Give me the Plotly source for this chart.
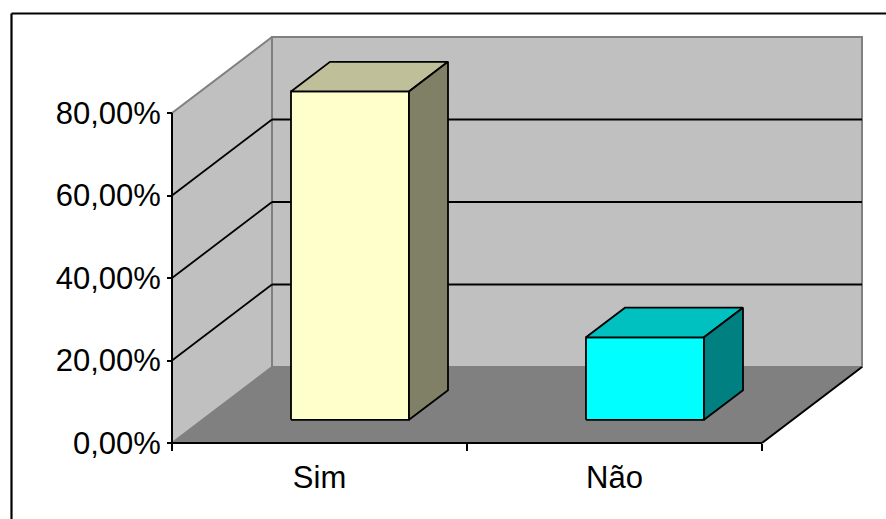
import plotly.graph_objects as go

# ---- data ----
categories = ["Sim", "Não"]
values = [79.6, 20.0]
y_tickvals = [0, 20, 40, 60, 80]
y_ticktext = ["0,00%", "20,00%", "40,00%", "60,00%", "80,00%"]
y_max = 80

# ---- styles ----
front_colors = ["#FFFFCC", "#00FFFF"]
top_colors = ["#BFBF99", "#00C0C0"]
side_colors = ["#808066", "#008080"]
WALL = "#C0C0C0"
FLOOR = "#808080"
EDGE = "#808080"
FONT = "Liberation Sans, Arial, sans-serif"

# ---- layout geometry (pixels) ----
W, H = 886, 519
AX_LEFT, AX_BOTTOM = 172, 443       # front-left corner of the floor
DEPTH_XPX, DEPTH_YPX = 100, 76      # oblique depth offset
BACK_RIGHT, BACK_TOP = 862, 37
PAD = 6

N = len(categories)
xscale = (BACK_RIGHT - AX_LEFT - DEPTH_XPX) / N
yscale = (AX_BOTTOM - DEPTH_YPX - BACK_TOP) / y_max
DX = DEPTH_XPX / xscale
DY = DEPTH_YPX / yscale

ml = AX_LEFT - PAD
mr = W - (BACK_RIGHT + PAD)
mt = BACK_TOP - PAD
mb = H - (AX_BOTTOM + PAD)
pw = W - ml - mr
ph = H - mt - mb


def proj(x, v, d):
    return x + d * DX, v + d * DY


def poly(pts):
    xs = [p[0] for p in pts] + [pts[0][0]]
    ys = [p[1] for p in pts] + [pts[0][1]]
    return xs, ys


fig = go.Figure()


def add_poly(pts, fill, lcolor, lwidth):
    xs, ys = poly(pts)
    fig.add_trace(go.Scatter(x=xs, y=ys, mode="lines", fill="toself",
                             fillcolor=fill,
                             line=dict(color=lcolor, width=lwidth),
                             hoverinfo="skip", showlegend=False))


def add_line(p0, p1, color, width):
    fig.add_trace(go.Scatter(x=[p0[0], p1[0]], y=[p0[1], p1[1]], mode="lines",
                             line=dict(color=color, width=width),
                             hoverinfo="skip", showlegend=False))


# floor
add_poly([proj(0, 0, 0), proj(N, 0, 0), proj(N, 0, 1), proj(0, 0, 1)], FLOOR, FLOOR, 0.5)
# side wall
add_poly([proj(0, 0, 0), proj(0, 0, 1), proj(0, y_max, 1), proj(0, y_max, 0)], WALL, EDGE, 2)
# back wall
add_poly([proj(0, 0, 1), proj(N, 0, 1), proj(N, y_max, 1), proj(0, y_max, 1)], WALL, EDGE, 2)

# gridlines
for v in y_tickvals[1:-1]:
    add_line(proj(0, v, 0), proj(0, v, 1), "black", 1.8)
    add_line(proj(0, v, 1), proj(N, v, 1), "black", 1.8)

# axis edges
add_line(proj(0, 0, 0), proj(0, y_max, 0), "black", 2)
add_line(proj(0, 0, 0), proj(N, 0, 0), "black", 2)
add_line(proj(N, 0, 0), proj(N, 0, 1), "black", 2)

# bars
BAR_HALF = 0.2
D0, D1 = 0.305, 0.695
for i, v in enumerate(values):
    x0, x1 = i + 0.5 - BAR_HALF, i + 0.5 + BAR_HALF
    add_poly([proj(x0, 0, D0), proj(x1, 0, D0), proj(x1, v, D0), proj(x0, v, D0)],
             front_colors[i], "black", 1.8)
    add_poly([proj(x0, v, D0), proj(x1, v, D0), proj(x1, v, D1), proj(x0, v, D1)],
             top_colors[i], "black", 1.8)
    add_poly([proj(x1, 0, D0), proj(x1, 0, D1), proj(x1, v, D1), proj(x1, v, D0)],
             side_colors[i], "black", 1.8)

# outer frame (left and top border)
def px2paper_x(px):
    return (px - ml) / pw


def px2paper_y(py):
    return (H - mb - py) / ph


shapes = [
    dict(type="line", xref="paper", yref="paper",
         x0=px2paper_x(11.5), x1=px2paper_x(W + 5), y0=px2paper_y(13.5), y1=px2paper_y(13.5),
         line=dict(color="black", width=2.2)),
    dict(type="line", xref="paper", yref="paper",
         x0=px2paper_x(11.5), x1=px2paper_x(11.5), y0=px2paper_y(13.5), y1=px2paper_y(H + 5),
         line=dict(color="black", width=2.2)),
]

fig.update_layout(
    width=W, height=H,
    margin=dict(l=ml, r=mr, t=mt, b=mb, pad=0),
    paper_bgcolor="white", plot_bgcolor="white",
    font=dict(family=FONT, size=31, color="black"),
    shapes=shapes,
    xaxis=dict(
        range=[-PAD / xscale, N + DX + PAD / xscale],
        anchor="free", position=PAD / ph,
        showgrid=False, zeroline=False, showline=False,
        tickmode="array", tickvals=[i + 0.5 for i in range(N)], ticktext=categories,
        ticks="", ticklabelstandoff=13,
        minor=dict(tickmode="array", tickvals=list(range(N + 1)), ticks="outside",
                   ticklen=7, tickwidth=1.5, tickcolor="black", showgrid=False),
        fixedrange=True,
    ),
    yaxis=dict(
        range=[-PAD / yscale, y_max + DY + PAD / yscale],
        anchor="free", position=PAD / pw,
        showgrid=False, zeroline=False, showline=False,
        tickmode="array", tickvals=y_tickvals, ticktext=y_ticktext,
        ticks="outside", ticklen=5, tickwidth=1.5, tickcolor="black",
        fixedrange=True,
    ),
    showlegend=False,
)

fig.write_html("out.html")
